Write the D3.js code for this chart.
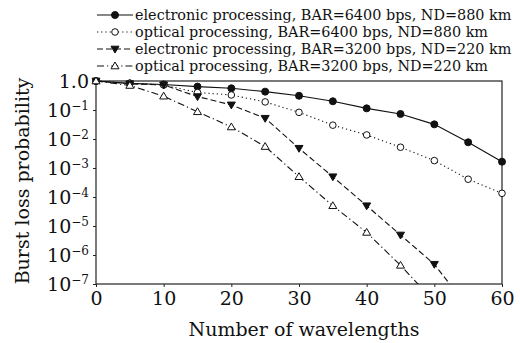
<!DOCTYPE html>
<html>
  <head>
    <script src="https://d3js.org/d3.v7.min.js"></script>
    <style>
      body { margin: 0; background: #fff; }
      text { font-family: "DejaVu Serif", serif; fill: #111; }
    </style>
  </head>
  <body>
    <svg id="chart"></svg>
    <script>
      // data
      const wavelengths = [0, 5, 10, 15, 20, 25, 30, 35, 40, 45, 50, 55, 60];
      const elec6400 = [1.0, 0.83, 0.76, 0.64, 0.56, 0.43, 0.31, 0.2, 0.114, 0.073, 0.032, 0.0077, 0.00165];
      const opt6400 = [1.0, 0.83, 0.73, 0.4, 0.33, 0.19, 0.083, 0.03, 0.0138, 0.0052, 0.0018, 0.00041, 0.000134];
      const elec3200 = [1.0, 0.8, 0.73, 0.29, 0.15, 0.052, 0.0048, 0.0005, 5e-5, 4.9e-6, 4.8e-7, 1.5e-8];
      const opt3200 = [1.0, 0.7, 0.3, 0.087, 0.026, 0.0055, 0.0005, 5e-5, 6e-6, 4.4e-7, 2.5e-8];
      const seriesNames = [
        "electronic processing, BAR=6400 bps, ND=880 km",
        "optical processing, BAR=6400 bps, ND=880 km",
        "electronic processing, BAR=3200 bps, ND=220 km",
        "optical processing, BAR=3200 bps, ND=220 km"
      ];
      const xTicks = [0, 10, 20, 30, 40, 50, 60];
      const yExponents = [0, -1, -2, -3, -4, -5, -6, -7];

      const series = [
        { name: seriesNames[0], values: elec6400, dash: null, marker: "circle", fill: "#111" },
        { name: seriesNames[1], values: opt6400, dash: "1.2,3", marker: "circle", fill: "#fff" },
        { name: seriesNames[2], values: elec3200, dash: "6,3", marker: "down", fill: "#111" },
        { name: seriesNames[3], values: opt3200, dash: "7,3,1.2,3", marker: "up", fill: "#fff" }
      ];

      const width = 520, height = 343;
      const margin = { left: 96, top: 81, right: 18, bottom: 59 };

      const svg = d3.select("#chart").attr("width", width).attr("height", height);

      const x = d3.scaleLinear().domain([0, 60]).range([margin.left, width - margin.right]);
      const y = d3.scaleLog().domain([1e-7, 1]).range([height - margin.bottom, margin.top]);

      svg.append("clipPath").attr("id", "plot-clip")
        .append("rect")
        .attr("x", margin.left - 6)
        .attr("y", margin.top - 6)
        .attr("width", x(60) - margin.left + 12)
        .attr("height", y(1e-7) - margin.top + 6);

      // frame
      svg.append("rect")
        .attr("x", margin.left).attr("y", margin.top)
        .attr("width", x(60) - x(0)).attr("height", y(1e-7) - y(1))
        .attr("fill", "none").attr("stroke", "#222").attr("stroke-width", 1.2);

      // x axis
      const gx = svg.append("g")
        .attr("transform", "translate(0," + y(1e-7) + ")")
        .call(d3.axisBottom(x).tickValues(xTicks).tickSize(3).tickFormat(d3.format("d")));
      gx.select(".domain").remove();
      gx.selectAll("line").attr("stroke", "#222");
      gx.selectAll("text")
        .attr("font-size", 19)
        .attr("font-family", "DejaVu Serif, serif")
        .attr("fill", "#111")
        .attr("dy", "0.78em");

      // y axis
      const gy = svg.append("g")
        .attr("transform", "translate(" + margin.left + ",0)")
        .call(d3.axisLeft(y).tickValues(yExponents.map(e => Math.pow(10, e))).tickSize(3).tickFormat(""));
      gy.select(".domain").remove();
      gy.selectAll("line").attr("stroke", "#222");

      const ylab = svg.append("g");
      yExponents.forEach(function (e) {
        const t = ylab.append("text")
          .attr("x", margin.left - 7)
          .attr("y", y(Math.pow(10, e)))
          .attr("dy", "0.36em")
          .attr("text-anchor", "end")
          .attr("font-size", 19);
        if (e === 0) {
          t.text("1.0");
        } else {
          t.append("tspan").text("10");
          t.append("tspan")
            .attr("dy", "-0.55em")
            .attr("font-size", 12)
            .text("\u2212" + Math.abs(e));
        }
      });

      // axis titles
      svg.append("text")
        .attr("x", 304)
        .attr("y", 336)
        .attr("text-anchor", "middle")
        .attr("font-size", 19)
        .text("Number of wavelengths");

      svg.append("text")
        .attr("transform", "translate(29," + 181 + ") rotate(-90)")
        .attr("text-anchor", "middle")
        .attr("font-size", 19)
        .text("Burst loss probability");

      // markers
      function drawMarker(g, kind, cx, cy, fill) {
        if (kind === "circle") {
          g.append("circle")
            .attr("cx", cx).attr("cy", cy).attr("r", fill === "#fff" ? 3.3 : 3.5)
            .attr("fill", fill).attr("stroke", "#111").attr("stroke-width", 1);
        } else {
          const s = 4;
          const pts = kind === "up"
            ? [[cx, cy - s], [cx - s, cy + s * 0.7], [cx + s, cy + s * 0.7]]
            : [[cx, cy + s], [cx - s, cy - s * 0.7], [cx + s, cy - s * 0.7]];
          g.append("polygon")
            .attr("points", pts.map(p => p.join(",")).join(" "))
            .attr("fill", fill).attr("stroke", "#111").attr("stroke-width", 1);
        }
      }

      const line = d3.line()
        .x(d => x(d[0]))
        .y(d => y(d[1]));

      const plot = svg.append("g").attr("clip-path", "url(#plot-clip)");
      series.forEach(function (s) {
        const pts = s.values.map((v, i) => [wavelengths[i], v]);
        plot.append("path")
          .attr("d", line(pts))
          .attr("fill", "none")
          .attr("stroke", "#111")
          .attr("stroke-width", 1.1)
          .attr("stroke-dasharray", s.dash);
        pts.forEach(function (p) {
          if (p[1] >= 1e-7) drawMarker(plot, s.marker, x(p[0]), y(p[1]), s.fill);
        });
      });

      // legend
      const legend = svg.append("g");
      const rowY = [15, 32, 49, 66];
      series.forEach(function (s, i) {
        const ly = rowY[i];
        legend.append("line")
          .attr("x1", 97).attr("x2", 133)
          .attr("y1", ly).attr("y2", ly)
          .attr("stroke", "#111").attr("stroke-width", 1.1)
          .attr("stroke-dasharray", s.dash);
        drawMarker(legend, s.marker, 115, ly, s.fill);
        legend.append("text")
          .attr("x", 135)
          .attr("y", ly)
          .attr("dy", "0.35em")
          .attr("font-size", 14.4)
          .text(s.name);
      });
    </script>
  </body>
</html>
